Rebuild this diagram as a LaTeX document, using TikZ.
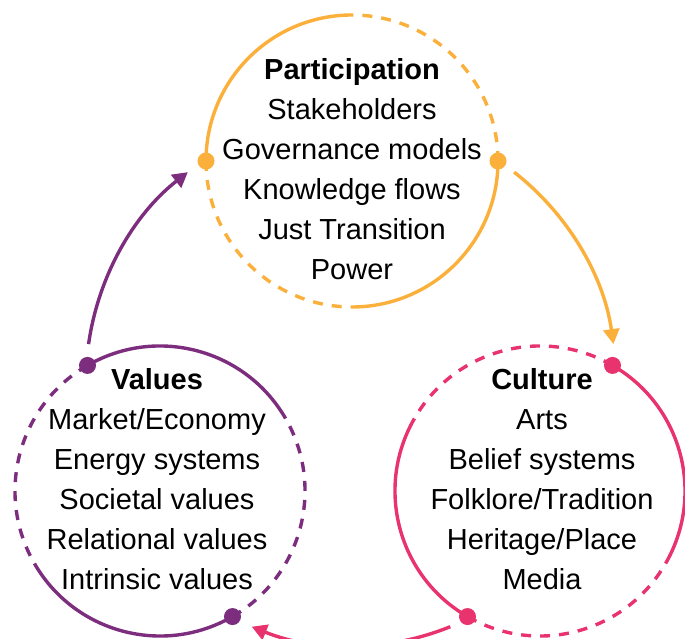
\documentclass[tikz,border=0pt]{standalone}
\usepackage{fontspec}
\setmainfont{Liberation Sans}
\usetikzlibrary{arrows.meta}
\definecolor{partorange}{RGB}{251,176,59}
\definecolor{valpurple}{RGB}{125,45,125}
\definecolor{culpink}{RGB}{232,51,110}
\begin{document}
\begin{tikzpicture}[x=1pt,y=1pt,
  ringnode/.style={circle, minimum size=#1, inner sep=0pt, outer sep=0pt},
  solidarc/.style={line width=3.4pt},
  dasharc/.style={line width=3.4pt, dash pattern=on 10pt off 9pt},
  ringdot/.style={circle, fill=#1, minimum size=17pt, inner sep=0pt},
  flowarrow/.style={line width=3.4pt, -{Triangle[length=15pt,width=16pt]}},
  ringtext/.style={align=center, font=\fontsize{29}{40}\selectfont}
]
\useasboundingbox (0,0) rectangle (685,639);

% invisible ring nodes carrying the circle geometry
\node[ringnode=292pt] (part) at (352,478) {};
\node[ringnode=290pt] (val)  at (160,148) {};
\node[ringnode=290pt] (cul)  at (540,148) {};

% Participation ring
\draw[partorange, solidarc] (part.90)  arc[start angle=90,  end angle=180, radius=146pt];
\draw[partorange, dasharc]  (part.180) arc[start angle=180, end angle=270, radius=146pt];
\draw[partorange, solidarc] (part.270) arc[start angle=270, end angle=360, radius=146pt];
\draw[partorange, dasharc]  (part.0)   arc[start angle=0,   end angle=90,  radius=146pt];

% Values ring
\draw[valpurple, solidarc] (val.30)  arc[start angle=30,  end angle=120, radius=145pt];
\draw[valpurple, dasharc]  (val.120) arc[start angle=120, end angle=210, radius=145pt];
\draw[valpurple, solidarc] (val.210) arc[start angle=210, end angle=300, radius=145pt];
\draw[valpurple, dasharc]  (val.300) arc[start angle=300, end angle=390, radius=145pt];

% Culture ring
\draw[culpink, solidarc] (cul.-30) arc[start angle=-30, end angle=60,  radius=145pt];
\draw[culpink, dasharc]  (cul.60)  arc[start angle=60,  end angle=150, radius=145pt];
\draw[culpink, solidarc] (cul.150) arc[start angle=150, end angle=240, radius=145pt];
\draw[culpink, dasharc]  (cul.240) arc[start angle=240, end angle=330, radius=145pt];

% dots where solid and dashed parts meet
\node[ringdot=partorange] (pdl) at (part.180) {};
\node[ringdot=partorange] (pdr) at (part.0) {};
\node[ringdot=valpurple]  (vdt) at (val.120) {};
\node[ringdot=valpurple]  (vdb) at (val.300) {};
\node[ringdot=culpink]    (cdt) at (cul.60) {};
\node[ringdot=culpink]    (cdb) at (cul.240) {};

% cycle arrows: arcs of one large circle around the middle
\coordinate (hub) at (351,258);
\path (hub) ++(172:265pt) coordinate (vs)
      (hub) ++(128:265pt) coordinate (ve)
      (hub) ++(52:265pt)  coordinate (ps)
      (hub) ++(8:265pt)   coordinate (pe)
      (hub) ++(-68:265pt) coordinate (cs)
      (hub) ++(-112:265pt) coordinate (ce);
\draw[flowarrow, valpurple]  (vs) arc[start angle=172, end angle=128,  radius=265pt];
\draw[flowarrow, partorange] (ps) arc[start angle=52,  end angle=8,    radius=265pt];
\draw[flowarrow, culpink]    (cs) arc[start angle=-68, end angle=-112, radius=265pt];

% texts
\node[ringtext] (parttxt) at (352,469.5)
  {\textbf{Participation}\\Stakeholders\\Governance models\\Knowledge flows\\Just Transition\\Power};
\node[ringtext] (valtxt) at (157,159.5)
  {\textbf{Values}\\Market/Economy\\Energy systems\\Societal values\\Relational values\\Intrinsic values};
\node[ringtext] (cultxt) at (542,159.5)
  {\textbf{Culture}\\Arts\\Belief systems\\Folklore/Tradition\\Heritage/Place\\Media};
\end{tikzpicture}
\end{document}
